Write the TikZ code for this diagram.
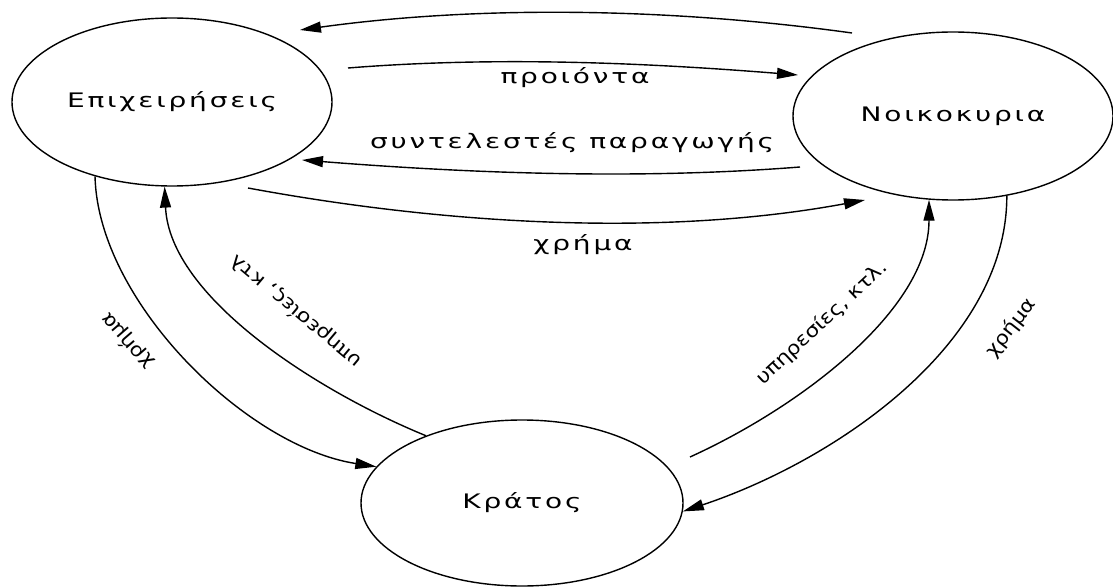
\documentclass[tikz,border=0pt]{standalone}
\usepackage{fontspec}
\newfontfamily\grfont[LetterSpace=14,FakeStretch=1.4]{DejaVu Sans}
\newfontfamily\grside[FakeStretch=1.15]{DejaVu Sans}
\usetikzlibrary{shapes.geometric,arrows.meta,calc}
\begin{document}
\begin{tikzpicture}[x=1pt,y=1pt,
  sector/.style={ellipse,draw,line width=1.4pt,minimum width=320pt,minimum height=168pt,inner sep=0pt,font=\grfont\fontsize{20}{22}\selectfont},
  flow/.style={line width=1.4pt,-{Triangle[length=21pt,width=11pt]}},
  lbl/.style={inner sep=1pt,font=\grfont\fontsize{20}{22}\selectfont},
  slbl/.style={inner sep=1pt,font=\grside\fontsize{19}{21}\selectfont}]
\useasboundingbox (0,0) rectangle (1113,-588);
\node[sector] (E) at (172,-102) {Επιχειρήσεις};
\node[sector] (N) at (953,-116) {Νοικοκυρια};
\node[sector,minimum width=322pt,minimum height=166pt] (K) at (522,-503) {Κράτος};
% flows between firms and households
\draw[flow] ($(N.center)+(-101,83)$) .. controls +(-180,25) and +(180,25) .. ($(E.center)+(128,72)$);
\draw[flow] ($(E.center)+(176,34)$) .. controls +(150,12) and +(-150,12) .. ($(N.center)+(-155,41)$);
\draw[flow] ($(N.center)+(-153,-51)$) .. controls +(-165,-13) and +(165,-13) .. ($(E.center)+(130,-58)$);
\draw[flow] ($(E.center)+(76,-86)$) .. controls +(200,-37) and +(-200,-37) .. ($(N.center)+(-88,-84)$);
% flows with the state
\draw[flow] (E.224) .. controls +(3,-125) and +(-130,20) .. (K.166);
\draw[flow] (K.145) .. controls +(-110,45) and +(5,-110) .. (E.265);
\draw[flow] ($(K.center)+(168,46)$) .. controls +(110,50) and +(0,-110) .. (N.254);
\draw[flow] (N.304) .. controls +(0,-150) and +(150,50) .. (K.357);
% labels
\node[lbl] (lp) at (575,-78) {προιόντα};
\node[lbl] (ls) at (572,-143) {συντελεστές παραγωγής};
\node[lbl] (lm) at (583,-245) {χρήμα};
\node[slbl,rotate=140] (lsl) at (296,-311) {υπηρεσίες, κτλ};
\node[slbl,rotate=131] (lml) at (127,-341) {χρήμα};
\node[slbl,rotate=43] (lsr) at (822,-323) {υπηρεσίες, κτλ.};
\node[slbl,rotate=52] (lmr) at (1011,-328) {χρήμα};
\end{tikzpicture}
\end{document}
